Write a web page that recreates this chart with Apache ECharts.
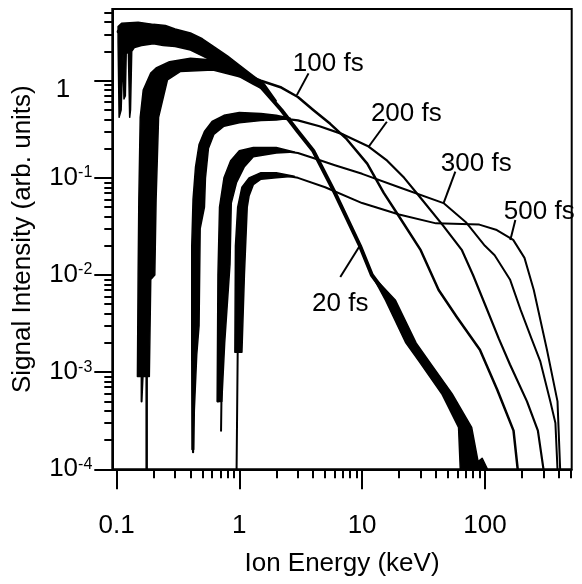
<!DOCTYPE html>
<html><head><meta charset="utf-8">
<script src="https://cdn.jsdelivr.net/npm/echarts@6/dist/echarts.min.js"></script>
<style>html,body{margin:0;padding:0;background:#fff}#c{width:582px;height:584px}</style>
</head><body><div id="c"></div>
<script>
// ---- axis ticks ----
const xMajor = [0.1, 1, 10, 100];
const xMinor = [0.2,0.3,0.4,0.5,0.6,0.7,0.8,0.9,2,3,4,5,6,7,8,9,20,30,40,50,60,70,80,90,200,300,400,500];
const yMajor = [1e-4, 1e-3, 1e-2, 1e-1, 1];
const yMinor = [2e-4,3e-4,4e-4,5e-4,6e-4,7e-4,8e-4,9e-4,2e-3,3e-3,4e-3,5e-3,6e-3,7e-3,8e-3,9e-3,
  0.02,0.03,0.04,0.05,0.06,0.07,0.08,0.09,0.2,0.3,0.4,0.5,0.6,0.7,0.8,0.9,2,3,4,5];
const xRange = [0.0924, 509];
const yRange = [1e-4, 5.47];

// ---- spectra [keV, signal] ----
const fs20 = [[0.104,3.2],[0.12,3.1],[0.15,3.1],[0.2,3.1],[0.3,2.75],[0.4,2.5],[0.6,1.9],[0.8,1.55],[1.0,1.28],[1.5,0.87],[2.2,0.5],[3,0.3],[4,0.19],[6,0.07],[9.6,0.02],[12,0.01],[17,0.0055],[25,0.002],[32,0.0013],[49,6e-4],[67,2.7e-4],[75,1e-4]];
const fs100 = [[0.176,1e-4],[0.176,0.001],[0.172,0.01],[0.178,0.1],[0.185,0.4],[0.2,0.75],[0.23,1.1],[0.27,1.35],[0.33,1.45],[0.45,1.47],[0.6,1.45],[0.8,1.33],[1.0,1.22],[1.5,1.0],[2.2,0.85],[3,0.68],[4,0.5],[5.5,0.36],[7.5,0.25],[11,0.14],[15,0.07],[20,0.04],[30,0.018],[42,0.007],[59,0.0037],[91,0.0017],[126,6.6e-4],[171,2.5e-4],[185,1e-4]];
const fs200 = [[0.42,1.5e-4],[0.42,0.002],[0.43,0.02],[0.45,0.06],[0.48,0.13],[0.52,0.22],[0.6,0.32],[0.75,0.39],[1.0,0.42],[1.5,0.42],[2.2,0.41],[3,0.39],[4.5,0.34],[7,0.28],[11.3,0.21],[16,0.15],[22,0.1],[30,0.062],[45,0.033],[65,0.018],[80,0.01],[100,0.005],[130,0.0022],[160,0.0012],[220,5e-4],[270,2.5e-4],[300,1e-4]];
const fs300 = [[0.71,2.5e-4],[0.72,0.001],[0.74,0.01],[0.76,0.03],[0.8,0.06],[0.88,0.1],[1.0,0.14],[1.2,0.17],[1.6,0.19],[2.2,0.19],[3,0.18],[4,0.16],[6,0.135],[10,0.11],[20,0.08],[46,0.055],[70,0.035],[100,0.02],[120,0.016],[160,0.009],[195,0.0044],[240,0.0022],[282,0.0013],[341,5e-4],[375,3e-4],[390,1e-4]];
const fs500 = [[0.95,1e-4],[0.97,0.0016],[1.0,0.01],[1.03,0.03],[1.08,0.05],[1.15,0.07],[1.3,0.09],[1.6,0.105],[2.2,0.107],[3,0.1],[5,0.08],[10,0.055],[20,0.042],[40,0.034],[90,0.033],[125,0.029],[170,0.023],[210,0.015],[250,0.007],[320,0.0017],[390,5e-4],[410,1e-4]];

// noisy thick bands: outlines (one edge, then the other edge back)
const band20 = [[0.103,3.6],[0.11,3.9],[0.15,4.0],[0.2,3.8],[0.25,3.7],[0.3,3.4],[0.4,3.1],[0.5,2.7],[0.62,2.24],[0.8,1.8],[1.0,1.45],[1.3,1.12],[1.6,0.92],[2.0,0.62],
  [1.6,0.8],[1.3,0.92],[1.0,1.1],[0.8,1.32],[0.62,1.57],[0.5,1.8],[0.4,2.07],[0.3,2.25],[0.24,2.3],[0.2,2.4],[0.16,2.3],[0.14,2.2],
  [0.133,2.0],[0.13,0.5],[0.128,0.42],[0.125,1.9],[0.12,2.0],[0.118,0.7],[0.115,0.65],[0.113,1.9],[0.109,0.5],[0.105,0.42],[0.103,2.5]];
const band20tail = [[12,0.01],[15.5,0.0055],[22.7,0.002],[29,0.0013],[44.5,6e-4],[61,2.7e-4],[63,1e-4],
  [105,1e-4],[95,1.3e-4],[88,1.2e-4],[78,2.7e-4],[54,6e-4],[35,0.0013],[27.5,0.002],[18.7,0.0055]];
const band100 = [[0.148,0.0009],[0.15,0.01],[0.152,0.06],[0.156,0.42],[0.165,0.8],[0.19,1.2],[0.21,1.35],[0.27,1.57],[0.4,1.7],[0.61,1.63],[0.8,1.45],[1.0,1.3],
  [1.0,1.1],[0.61,1.29],[0.33,1.24],[0.26,1.02],[0.22,0.42],[0.21,0.06],[0.205,0.01],[0.19,0.009],[0.185,0.0009]];
const band200 = [[0.412,1.6e-4],[0.41,0.0015],[0.41,0.02],[0.42,0.06],[0.44,0.13],[0.47,0.22],[0.52,0.3],[0.6,0.38],[0.75,0.44],[1.0,0.47],[1.5,0.46],[2.0,0.44],[2.6,0.41],
  [2.0,0.395],[1.5,0.39],[1.0,0.37],[0.75,0.34],[0.62,0.28],[0.56,0.2],[0.53,0.1],[0.52,0.05],[0.48,0.03],[0.47,0.003],[0.45,0.0015],[0.43,0.0004],[0.425,1.6e-4]];
const band300 = [[0.66,0.0005],[0.67,0.01],[0.69,0.05],[0.75,0.1],[0.85,0.15],[1.0,0.19],[1.3,0.205],[2.0,0.205],[2.8,0.185],
  [2.0,0.18],[1.3,0.165],[1.1,0.13],[0.95,0.09],[0.86,0.055],[0.84,0.013],[0.76,0.002],[0.72,0.0005]];
const band500 = [[0.92,0.0016],[0.93,0.02],[0.97,0.05],[1.05,0.08],[1.2,0.1],[1.5,0.113],[2.0,0.113],[2.8,0.104],
  [2.0,0.1],[1.5,0.097],[1.3,0.085],[1.2,0.065],[1.16,0.05],[1.1,0.01],[1.05,0.0016]];
const spikes100 = [[0.16,0.001],[0.16,5e-4],[0.165,0.0012]];
const spikes300 = [[0.68,0.002],[0.67,5e-4],[0.7,0.003]];

// annotations: [label, labelPos, lineFrom, lineTo]
const annotations = [
  ['100 fs', [5.3,1.49], [3.66,1.19], [2.94,0.71]],
  ['200 fs', [22.9,0.454], [15.9,0.378], [11.3,0.209]],
  ['300 fs', [85,0.139], [57.4,0.116], [46,0.0547]],
  ['500 fs', [277,0.0445], [177,0.0368], [161,0.0229]],
  ['20 fs', [6.64,0.00502], [6.64,0.00953], [9.66,0.0204]]
];

const FONT = '"Liberation Sans", Arial, Helvetica, sans-serif';
const FS = 26;
const chart = echarts.init(document.getElementById('c'), null, {renderer:'canvas'});

function lineSeries(data, w) {
  return {type:'line', data:data, showSymbol:false, symbol:'none', xAxisIndex:0, yAxisIndex:0,
    lineStyle:{color:'#000', width:w, cap:'round', join:'round'}, silent:true, animation:false};
}
function bandSeries(pts) {
  return {type:'custom', coordinateSystem:'cartesian2d', xAxisIndex:0, yAxisIndex:0, clip:true, silent:true, animation:false,
    data:[pts[0]],
    renderItem:function(params, api){
      return {type:'polygon', shape:{points:pts.map(function(p){ return api.coord(p); })},
        style:{fill:'#000', stroke:'#000', lineWidth:1.5, lineJoin:'round'}};
    }};
}

const axisCommon = {type:'log', logBase:10, splitLine:{show:false}, minorTick:{show:false}};
chart.setOption({
  animation:false,
  backgroundColor:'#fff',
  grid:{left:112.3, right:10.3, top:9, bottom:114.7, show:true, borderColor:'#000', borderWidth:2, backgroundColor:'transparent'},
  xAxis:[
    Object.assign({}, axisCommon, {min:xRange[0], max:xRange[1], position:'bottom',
      name:'Ion Energy (keV)', nameLocation:'middle', nameGap:82,
      nameTextStyle:{fontFamily:FONT, fontSize:FS, color:'#000'},
      axisLine:{show:true, lineStyle:{color:'#000', width:2}},
      axisTick:{show:true, customValues:xMajor, length:20, lineStyle:{color:'#000', width:2}},
      axisLabel:{show:true, customValues:xMajor, margin:44, fontFamily:FONT, fontSize:FS, color:'#000',
        formatter:function(v){ return v < 1 ? '0.1' : String(Math.round(v)); }}}),
    Object.assign({}, axisCommon, {min:xRange[0], max:xRange[1], position:'bottom',
      axisLine:{show:false},
      axisTick:{show:true, customValues:xMinor, length:9, lineStyle:{color:'#000', width:2}},
      axisLabel:{show:false}})
  ],
  yAxis:[
    Object.assign({}, axisCommon, {min:yRange[0], max:yRange[1], position:'left',
      name:'Signal Intensity (arb. units)', nameLocation:'middle', nameGap:76, nameRotate:90,
      nameTextStyle:{fontFamily:FONT, fontSize:FS, color:'#000'},
      axisLine:{show:true, lineStyle:{color:'#000', width:2}},
      axisTick:{show:true, customValues:yMajor, length:18, lineStyle:{color:'#000', width:2}},
      axisLabel:{show:true, customValues:yMajor, margin:20, fontFamily:FONT, color:'#000',
        formatter:function(v){
          const e = Math.round(Math.log10(v));
          if (e === 0) return '{one|1}';
          return '{b|10}{s|' + e + '}';
        },
        rich:{
          b:{fontFamily:FONT, fontSize:FS, color:'#000', verticalAlign:'bottom'},
          s:{fontFamily:FONT, fontSize:16, color:'#000', verticalAlign:'top'},
          one:{fontFamily:FONT, fontSize:FS, color:'#000', padding:[18,22,0,0]}
        }}}),
    Object.assign({}, axisCommon, {min:yRange[0], max:yRange[1], position:'left',
      axisLine:{show:false},
      axisTick:{show:true, customValues:yMinor, length:8, lineStyle:{color:'#000', width:2}},
      axisLabel:{show:false}})
  ],
  series:[
    lineSeries(fs20, 4), lineSeries(fs100, 2.5), lineSeries(fs200, 2.2), lineSeries(fs300, 2), lineSeries(fs500, 2),
    bandSeries(band20), bandSeries(band20tail), bandSeries(band100), bandSeries(band200), bandSeries(band300), bandSeries(band500),
    lineSeries(spikes100, 2), lineSeries(spikes300, 2)
  ]
});

const g = [];
annotations.forEach(function(a){
  const p = chart.convertToPixel({xAxisIndex:0, yAxisIndex:0}, a[1]);
  const q1 = chart.convertToPixel({xAxisIndex:0, yAxisIndex:0}, a[2]);
  const q2 = chart.convertToPixel({xAxisIndex:0, yAxisIndex:0}, a[3]);
  g.push({type:'text', x:p[0], y:p[1], style:{text:a[0], fill:'#000', font:FS + 'px ' + FONT, textAlign:'center', textVerticalAlign:'middle'}, z:100});
  g.push({type:'line', shape:{x1:q1[0], y1:q1[1], x2:q2[0], y2:q2[1]}, style:{stroke:'#000', lineWidth:2}, z:100});
});
chart.setOption({graphic:g});
</script>
</body></html>
